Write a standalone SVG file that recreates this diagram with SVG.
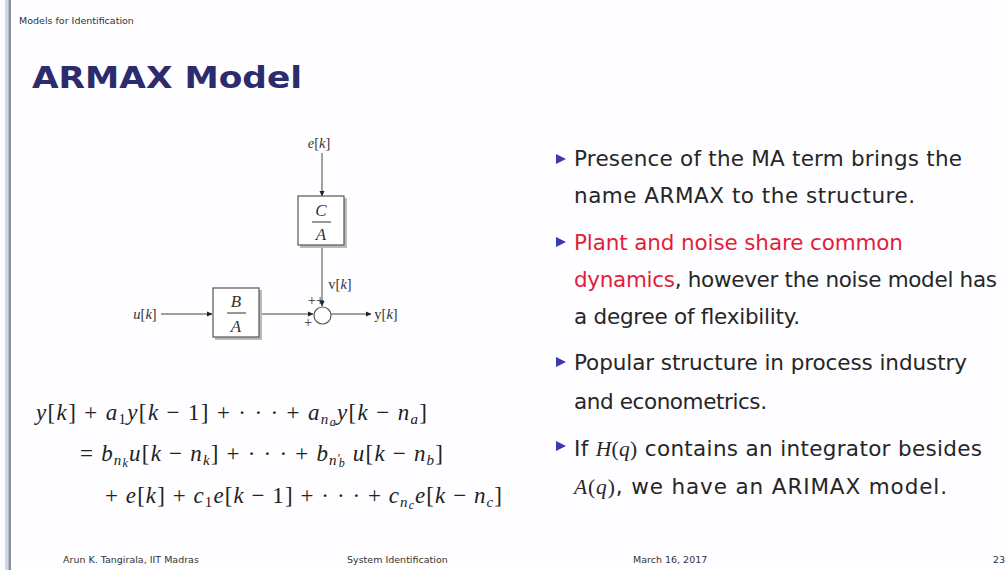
<svg xmlns="http://www.w3.org/2000/svg" width="1006" height="570" viewBox="0 0 1006 570">
<defs>
<marker id="ah" markerWidth="6" markerHeight="6" refX="5" refY="3" orient="auto" markerUnits="userSpaceOnUse">
<path d="M0,0.5 L5.5,3 L0,5.5 Z" fill="#222"/>
</marker>
<style>
.hdr{font-family:"DejaVu Sans","Liberation Sans",sans-serif;font-size:9.5px;fill:#333}
.ttl{font-family:"DejaVu Sans","Liberation Sans",sans-serif;font-size:31px;font-weight:bold;fill:#2b2b6e}
.body{font-family:"DejaVu Sans","Liberation Sans",sans-serif;font-size:21.5px;fill:#262626}
.red{fill:#e21d3c}
.m{font-family:"Liberation Serif","DejaVu Serif",serif;font-size:23px;fill:#222}
.i{font-style:italic}
.s{font-size:15px}
.ss{font-size:12px}
.lbl{font-family:"Liberation Serif","DejaVu Serif",serif;font-size:14.5px;fill:#333}
.frac{font-family:"Liberation Serif","DejaVu Serif",serif;font-size:17px;font-style:italic;fill:#333}
.box{fill:#fff;stroke:#555;stroke-width:1.2}
.shd{fill:#bbb}
.wire{stroke:#444;stroke-width:1;fill:none}
.bul{fill:#3a3ab0}
.ftr{font-family:"DejaVu Sans","Liberation Sans",sans-serif;font-size:9.5px;fill:#333}
</style>
</defs>
<rect width="1006" height="570" fill="#fefdff"/>
<rect x="5" y="0" width="3.5" height="570" fill="#c9d8ef"/>
<rect x="8.5" y="0" width="2.5" height="570" fill="#8a8d96"/>

<text class="hdr" x="19" y="24">Models for Identification</text>
<text class="ttl" x="32" y="88" textLength="270" lengthAdjust="spacingAndGlyphs">ARMAX Model</text>

<!-- connectors -->
<g id="connectors">
<line class="wire" x1="322" y1="153" x2="322" y2="196" marker-end="url(#ah)"/>
<line class="wire" x1="322" y1="246" x2="322" y2="306" marker-end="url(#ah)"/>
<line class="wire" x1="161" y1="314" x2="212" y2="314" marker-end="url(#ah)"/>
<line class="wire" x1="260" y1="314" x2="313" y2="314" marker-end="url(#ah)"/>
<line class="wire" x1="331" y1="314" x2="371" y2="314" marker-end="url(#ah)"/>
</g>

<g id="node-e">
<text class="lbl" x="319" y="148" text-anchor="middle"><tspan class="i">e</tspan>[<tspan class="i">k</tspan>]</text>
</g>
<g id="node-CA">
<rect class="shd" x="300" y="198" width="47" height="50"/>
<rect class="box" x="298" y="196" width="46" height="49"/>
<text class="frac" x="321" y="216" text-anchor="middle">C</text>
<line x1="312" y1="222" x2="331" y2="222" stroke="#333" stroke-width="1"/>
<text class="frac" x="321" y="240" text-anchor="middle">A</text>
</g>
<g id="node-u">
<text class="lbl" x="145" y="319" text-anchor="middle"><tspan class="i">u</tspan>[<tspan class="i">k</tspan>]</text>
</g>
<g id="node-BA">
<rect class="shd" x="215" y="290" width="47" height="50"/>
<rect class="box" x="213" y="288" width="46" height="49"/>
<text class="frac" x="236" y="307" text-anchor="middle">B</text>
<line x1="227" y1="313" x2="246" y2="313" stroke="#333" stroke-width="1"/>
<text class="frac" x="236" y="332" text-anchor="middle">A</text>
</g>
<g id="node-sum">
<circle cx="322.5" cy="315.5" r="8.5" fill="#fff" stroke="#555" stroke-width="1.2"/>
<text class="lbl" x="316" y="305" font-size="9" text-anchor="middle">++</text>
<text class="lbl" x="308" y="327" font-size="10" text-anchor="middle">+</text>
</g>
<g id="node-v">
<text class="lbl" x="340" y="289" text-anchor="middle">v[<tspan class="i">k</tspan>]</text>
</g>
<g id="node-y">
<text class="lbl" x="386" y="319" text-anchor="middle">y[<tspan class="i">k</tspan>]</text>
</g>

<!-- equation -->
<g id="equation">
<text class="m" x="36" y="420" textLength="391"><tspan class="i">y</tspan>[<tspan class="i">k</tspan>] +  <tspan class="i">a</tspan><tspan class="s" dy="4">1</tspan><tspan class="i" dy="-4">y</tspan>[<tspan class="i">k</tspan> − 1] + · · · + <tspan class="i">a</tspan><tspan class="s i" dy="4">n</tspan><tspan class="ss i" dy="2">a</tspan><tspan class="i" dy="-6">y</tspan>[<tspan class="i">k</tspan> − <tspan class="i">n</tspan><tspan class="s i" dy="4">a</tspan><tspan dy="-4">]</tspan></text>
<text class="m" x="80" y="461" textLength="363">= <tspan class="i">b</tspan><tspan class="s i" dy="4">n</tspan><tspan class="ss i" dy="2">k</tspan><tspan class="i" dy="-6">u</tspan>[<tspan class="i">k</tspan> − <tspan class="i">n</tspan><tspan class="s i" dy="4">k</tspan><tspan dy="-4">] + · · · + </tspan><tspan class="i">b</tspan><tspan class="s i" dy="4">n</tspan><tspan class="ss" dy="-3">′</tspan><tspan class="ss i" dy="5" dx="-3">b</tspan><tspan class="i" dy="-6"> u</tspan>[<tspan class="i">k</tspan> − <tspan class="i">n</tspan><tspan class="s i" dy="4">b</tspan><tspan dy="-4">]</tspan></text>
<text class="m" x="105" y="503" textLength="397">+ <tspan class="i">e</tspan>[<tspan class="i">k</tspan>] + <tspan class="i">c</tspan><tspan class="s" dy="4">1</tspan><tspan class="i" dy="-4">e</tspan>[<tspan class="i">k</tspan> − 1] + · · · + <tspan class="i">c</tspan><tspan class="s i" dy="4">n</tspan><tspan class="ss i" dy="2">c</tspan><tspan class="i" dy="-6">e</tspan>[<tspan class="i">k</tspan> − <tspan class="i">n</tspan><tspan class="s i" dy="4">c</tspan><tspan dy="-4">]</tspan></text>
</g>

<!-- bullets -->
<g id="bullets">
<path class="bul" d="M556,154 L566,159 L556,164 Z"/>
<path class="bul" d="M556,237 L566,242 L556,247 Z"/>
<path class="bul" d="M556,357 L566,362 L556,367 Z"/>
<path class="bul" d="M556,441 L566,446 L556,451 Z"/>
<text class="body" x="574" y="166" textLength="388">Presence of the MA term brings the</text>
<text class="body" x="574" y="203" textLength="341">name ARMAX to the structure.</text>
<text class="body red" x="574" y="250" textLength="329">Plant and noise share common</text>
<text class="body" x="574" y="287" textLength="423"><tspan class="red">dynamics</tspan>, however the noise model has</text>
<text class="body" x="574" y="324" textLength="226">a degree of flexibility.</text>
<text class="body" x="574" y="370" textLength="393">Popular structure in process industry</text>
<text class="body" x="574" y="409" textLength="193">and econometrics.</text>
<text class="body" x="574" y="456" textLength="408">If <tspan font-family="Liberation Serif, serif" font-style="italic">H</tspan><tspan font-family="Liberation Serif, serif">(</tspan><tspan font-family="Liberation Serif, serif" font-style="italic">q</tspan><tspan font-family="Liberation Serif, serif">)</tspan> contains an integrator besides</text>
<text class="body" x="574" y="494" textLength="373"><tspan font-family="Liberation Serif, serif" font-style="italic">A</tspan><tspan font-family="Liberation Serif, serif">(</tspan><tspan font-family="Liberation Serif, serif" font-style="italic">q</tspan><tspan font-family="Liberation Serif, serif">)</tspan>, we have an ARIMAX model.</text>
</g>

<g id="footer">
<text class="ftr" x="63" y="563">Arun K. Tangirala, IIT Madras</text>
<text class="ftr" x="347" y="563">System Identification</text>
<text class="ftr" x="633" y="563">March 16, 2017</text>
<text class="ftr" x="1005" y="563" text-anchor="end">23</text>
</g>
</svg>
